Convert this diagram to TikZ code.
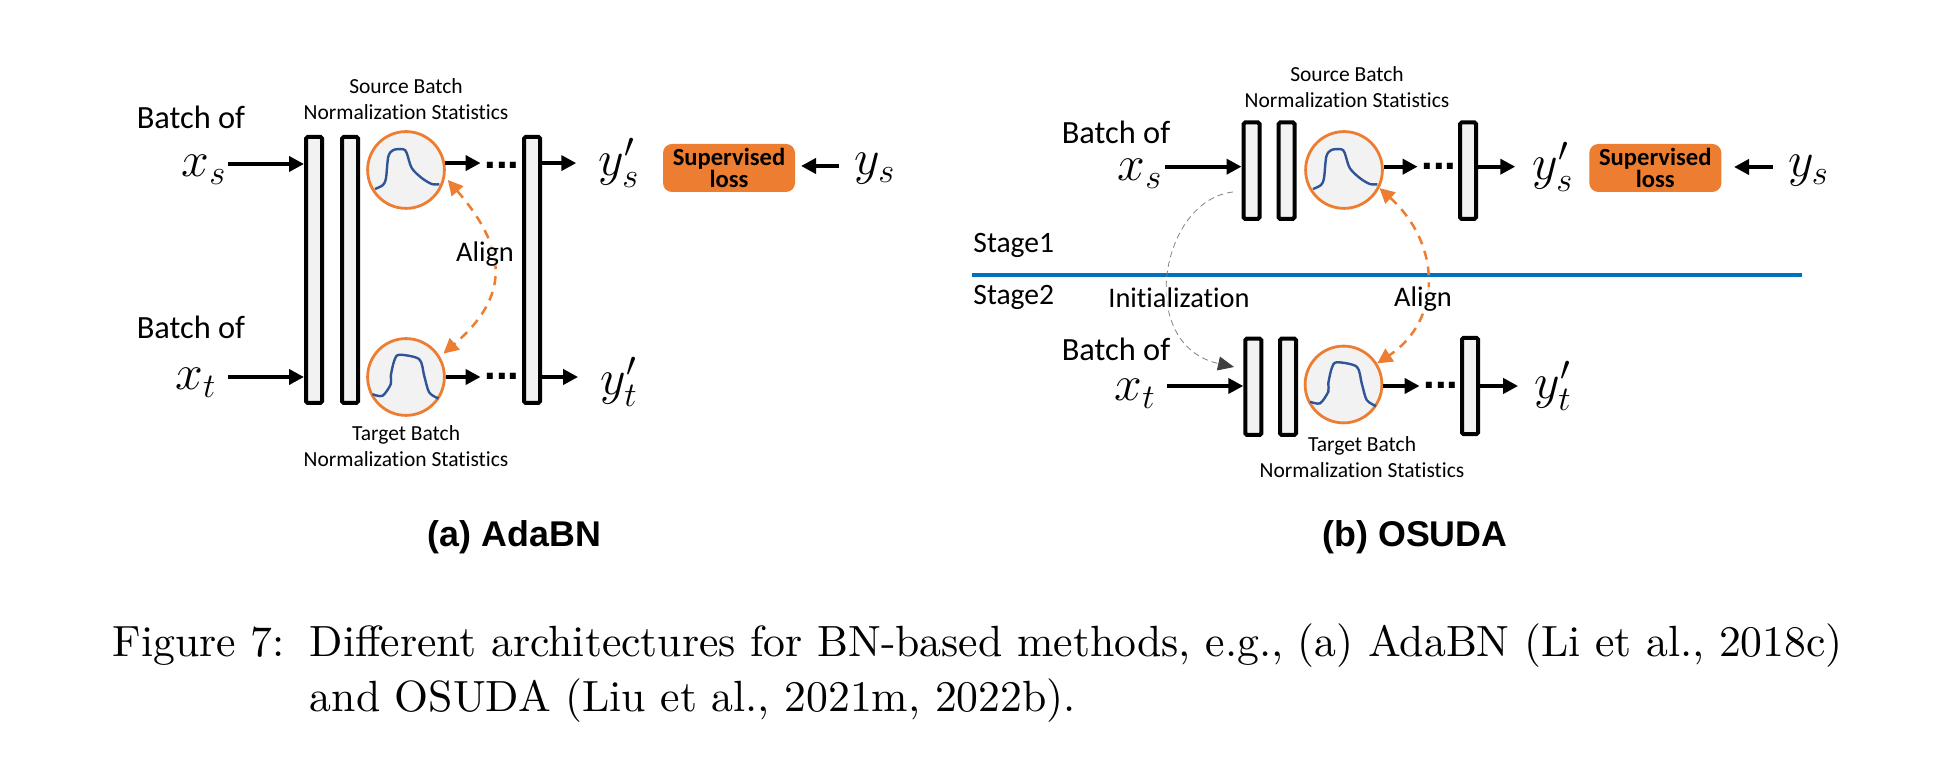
\documentclass[tikz,border=0pt]{standalone}
\usepackage{fontspec}
\usepackage{xcolor}
\usetikzlibrary{arrows.meta,positioning}
\newfontfamily\carlitofont[Ligatures=NoCommon]{Carlito}
\newfontfamily\arialfont{Liberation Sans}
\definecolor{lossorange}{HTML}{ED7D31}
\definecolor{ruleblue}{HTML}{0070C0}
\definecolor{curveblue}{HTML}{2F5597}
\definecolor{barfill}{HTML}{F2F2F2}
\tikzset{
  x=0.5pt,y=0.5pt,
  bar/.style={draw=black,fill=barfill,line width=2pt,rounded corners=0.8pt,inner sep=0pt,minimum width=8pt,minimum height=#1},
  stat/.style={circle,draw=lossorange,fill=barfill,line width=1.4pt,inner sep=0pt,minimum size=38.4pt},
  statcurve/.style={draw=curveblue,line width=1.2pt},
  batchtext/.style={font=\carlitofont\fontsize{16.2}{19}\selectfont,inner sep=0pt},
  smalltext/.style={font=\carlitofont\fontsize{10.75}{13}\selectfont,align=center,inner sep=0pt},
  midtext/.style={font=\carlitofont\fontsize{14.2}{17}\selectfont,inner sep=0pt},
  stagetext/.style={font=\carlitofont\fontsize{14.8}{17}\selectfont,inner sep=0pt},
  symb/.style={font=\fontsize{25}{29}\selectfont,inner sep=0pt},
  lossbox/.style={fill=lossorange,rounded corners=4.5pt,minimum width=66pt,minimum height=24pt,inner sep=0pt,align=center,font=\carlitofont\bfseries\fontsize{12.3}{11.2}\selectfont},
  dotsep/.style={font=\arialfont\bfseries\fontsize{21}{21}\selectfont,inner xsep=1.75pt,inner ysep=0pt},
  subcap/.style={font=\arialfont\bfseries\fontsize{17.9}{21}\selectfont,inner sep=0pt},
  captext/.style={anchor=base west,font=\fontsize{10}{12}\selectfont,scale=2.185,inner sep=0pt}
}
\newcommand{\sourcecurve}{plot[smooth] coordinates {(-31,-19) (-23,-15) (-20,-8) (-17.7,13.3) (-12.7,20) (-2.7,20.7) (0.7,17) (5.7,2) (15.7,-8) (25.7,-14) (33.3,-14.3)}}
\newcommand{\targetcurve}{plot[smooth] coordinates {(-33.5,-17.2) (-23.5,-18.8) (-15.2,-7.2) (-15.2,1.2) (-11.8,16.2) (-6.8,22.2) (13.2,17.8) (18.2,1.2) (23.2,-15.5) (32.5,-21.5)}}

\begin{document}
\begin{tikzpicture}
  \useasboundingbox (0,0) rectangle (1946,774);

  % (a) AdaBN
  \begin{scope}
    \node[bar=133pt] (barA1) at (314,504) {};
    \node[bar=133pt] (barA2) at (350,504) {};
    \node[bar=133pt] (barA3) at (532,504) {};
    \node[stat] (circA) at (406,604) {};
    \node[stat] (circB) at (406,397) {};
    \node[batchtext] (batchA) at (191,657) {Batch of};
    \node[batchtext] (batchB) at (191,447) {Batch of};
    \node[symb] (xsA) at (204,604) {$x_s$};
    \node[symb] (xtA) at (196,391) {$x_t$};
    \node[symb] (ysA) at (619,611) {$y_s'$};
    \node[symb] (ytA) at (619,392) {$y_t'$};
    \node[symb] (ylA) at (875,605) {$y_s$};
    \node[lossbox] (lossA) at (729,606) {Supervised\\loss};
    \node[smalltext] (srcA) at (406,675) {Source Batch\\Normalization Statistics};
    \node[smalltext] (tgtA) at (406,328) {Target Batch\\Normalization Statistics};
    \node[dotsep,anchor=base] (dotsA) at (502,605.5) {...};
    \node[dotsep,anchor=base] (dotsB) at (502,394) {...};
    \coordinate (xsAout) at (228,610);
    \coordinate (xtAout) at (228,397);
    \coordinate (ylAout) at (839,608);
    \coordinate (lossAin) at (801,608);
    \node[subcap] (capA) at (514.5,237) {(a) AdaBN};
  \end{scope}

  % (b) OSUDA
  \begin{scope}
    \node[bar=48.2pt] (barS1) at (1251.5,603.3) {};
    \node[bar=48.2pt] (barS2) at (1286.5,603.3) {};
    \node[bar=48.2pt] (barS3) at (1468,603.3) {};
    \node[bar=48.2pt] (barT1) at (1253.3,387.2) {};
    \node[bar=48.2pt] (barT2) at (1288,387.2) {};
    \node[bar=48.2pt] (barT3) at (1470,388) {};
    \node[stat] (circS) at (1344,604) {};
    \node[stat] (circT) at (1343.5,389.5) {};
    \node[batchtext] (batchS) at (1116,642) {Batch of};
    \node[batchtext] (batchT) at (1116,425) {Batch of};
    \node[symb] (xsS) at (1140,600) {$x_s$};
    \node[symb] (xtT) at (1135,380) {$x_t$};
    \node[symb] (ysS) at (1553,607) {$y_s'$};
    \node[symb] (ytT) at (1553,388) {$y_t'$};
    \node[symb] (ylS) at (1808.5,603) {$y_s$};
    \node[lossbox] (lossS) at (1655.3,606) {Supervised\\loss};
    \node[smalltext] (srcS) at (1347,687) {Source Batch\\Normalization Statistics};
    \node[smalltext] (tgtT) at (1362,317) {Target Batch\\Normalization Statistics};
    \node[dotsep,anchor=base] (dotsS) at (1439,604) {...};
    \node[dotsep,anchor=base] (dotsT) at (1441,385) {...};
    \node[stagetext,anchor=west] (stage1) at (973,529) {Stage1};
    \node[stagetext,anchor=west] (stage2) at (973,477) {Stage2};
    \coordinate (ruleL) at (971.7,499);
    \coordinate (ruleR) at (1801.7,499);
    \coordinate (xsSout) at (1165,607.3);
    \coordinate (xtTout) at (1166.7,388);
    \coordinate (ylSout) at (1772.7,607);
    \coordinate (lossSin) at (1734,607);
    \coordinate (initS) at (1233,582);
    \coordinate (initT) at (1234,407);
    \node[subcap] (capB) at (1415,237) {(b) OSUDA};
  \end{scope}

  \draw[statcurve,shift={(circA)}] \sourcecurve;
  \draw[statcurve,shift={(circB)}] \targetcurve;
  \draw[statcurve,shift={(circS)}] \sourcecurve;
  \draw[statcurve,shift={(circT)}] \targetcurve;

  \draw[ruleblue,line width=1.9pt] (ruleL) -- (ruleR);

  \begin{scope}[>={Triangle[length=7.5pt,width=7.5pt]},
                every edge/.style={draw=black,line width=2pt}]
    \path [->] (xsAout) edge (xsAout -| barA1.west);
    \path [->] (xtAout) edge (xtAout -| barA1.west);
    \path [->] (circA.10) edge (circA.10 -| dotsA.west);
    \path [->] (circB.0) edge (circB.0 -| dotsB.west);
    \path [->] (barA3.east |- circA.10) edge ([xshift=-11pt]ysA.west |- circA.10);
    \path [->] (barA3.east |- circB.0) edge ([xshift=-11pt]ytA.west |- circB.0);
    \path [->] (ylAout) edge (lossAin);

    \path [->] (xsSout) edge (xsSout -| barS1.west);
    \path [->] (xtTout) edge (xtTout -| barT1.west);
    \path [->] (circS.east |- xsSout) edge (dotsS.west |- xsSout);
    \path [->] (circT.east |- xtTout) edge (dotsT.west |- xtTout);
    \path [->] (barS3.east |- xsSout) edge ([xshift=-8.5pt]ysS.west |- xsSout);
    \path [->] (barT3.east |- xtTout) edge ([xshift=-8pt]ytT.west |- xtTout);
    \path [->] (ylSout) edge (lossSin);
  \end{scope}

  \begin{scope}[>={Triangle[length=7.5pt,width=7.5pt]}]
    \draw[lossorange,line width=1.25pt,dash pattern=on 4.5pt off 3.5pt,<->,shorten <=2pt,shorten >=2.2pt]
      (circA.-10.5) .. controls (508,524) and (510,478) .. (circB.31);
    \draw[lossorange,line width=1.25pt,dash pattern=on 4.5pt off 3.5pt,<->]
      (circS.-27.4) .. controls (1442,529) and (1442,454) .. (circT.32);
    \draw[draw=gray,line width=0.4pt,densely dashed,-{Triangle[length=8pt,width=7pt,color=black!75]}]
      (initS) .. controls (1160,574) and (1135,429) .. (initT);
  \end{scope}

  \node[midtext,fill=white,fill opacity=0.8,text opacity=1] (alignA) at (485,520) {Align};
  \node[midtext,fill=white,fill opacity=0.8,text opacity=1] (alignB) at (1423,475) {Align};
  \node[midtext,fill=white,fill opacity=0.7,text opacity=1] (initL) at (1179,476) {Initialization};

  % caption
  \node[captext] (figlabel) at (112,117.5) {Figure 7:};
  \node[captext] (capline1) at (309,117.5) {Different architectures for BN-based methods, e.g., (a) AdaBN (Li et al., 2018c)};
  \node[captext] (capline2) at (309,62.5) {and OSUDA (Liu et al., 2021m, 2022b).};
\end{tikzpicture}
\end{document}
